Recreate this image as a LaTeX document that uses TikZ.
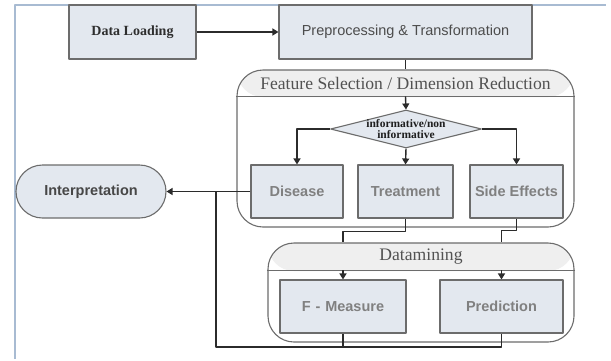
\documentclass[tikz,border=0pt]{standalone}
\usepackage{fontspec}
\setmainfont{Liberation Serif}
\setsansfont{Liberation Sans}
\usetikzlibrary{calc,arrows.meta,shapes.geometric}
\definecolor{boxfill}{HTML}{E3E8EF}
\definecolor{boxline}{HTML}{6C6C6C}
\definecolor{headfill}{HTML}{EFEFEF}
\definecolor{wire}{HTML}{2B2B2B}
\definecolor{framecol}{HTML}{A8BBD2}
\tikzset{flow/.style={
  x=1pt,y=-1pt,
  >={Triangle[length=6pt,width=7pt]},line join=round
},
  stepbox/.style={draw=boxline,line width=1.1pt,fill=boxfill,inner sep=0pt},
  sanslabel/.style={font=\sffamily\bfseries\fontsize{14.5}{16}\selectfont,text=black!50},
  container/.style={draw=boxline,line width=1.1pt,fill=white,rounded corners=26pt,inner sep=0pt},
  headtext/.style={font=\fontsize{17.6}{19}\selectfont,text=black!68},
  wireline/.style={draw=wire,line width=1.4pt},
  wirearrow/.style={wireline,->}
}

\begin{document}
\begin{tikzpicture}[flow]
  \useasboundingbox (0,0) rectangle (611,360);
  % frame of the figure
  \draw[framecol,line width=1.2pt] (15,359) -- (15,5) -- (606,5);

  \node[stepbox,minimum width=127pt,minimum height=54pt,
        font=\bfseries\fontsize{14}{16}\selectfont,text=black!82] (load) at (132.5,32){Data Loading};
  \node[stepbox,minimum width=253pt,minimum height=54pt,
        font=\sffamily\fontsize{14.5}{16}\selectfont,text=black!70] (prep) at (405.5,32){Preprocessing \& Transformation};

  % feature selection block
  \node[container,minimum width=337pt,minimum height=157pt,
        path picture={\fill[headfill] (path picture bounding box.north west) rectangle ([yshift=-27pt]path picture bounding box.north east);}]
        (fsel) at (405.5,148.5){};
  \coordinate (fselsep) at ($(fsel.north)+(0,27)$);
  \draw[boxline,line width=1.1pt] (fsel.west |- fselsep) -- (fsel.east |- fselsep);
  \node[headtext] (fselhead) at (405.5,83.5){Feature Selection / Dimension Reduction};

  \node[diamond,draw=boxline,line width=1.1pt,fill=boxfill,inner sep=0pt,
        minimum width=151pt,minimum height=38pt] (info) at (406,129){};
  \node[font=\bfseries\fontsize{11.5}{10.5}\selectfont,align=center,text=black!88] (infotext) at (info.center){informative/non\\informative};

  \node[stepbox,sanslabel,minimum width=92pt,minimum height=53pt] (disease) at (297,191.5){Disease};
  \node[stepbox,sanslabel,minimum width=95pt,minimum height=53pt] (treat) at (405.5,191.5){Treatment};
  \node[stepbox,sanslabel,minimum width=93pt,minimum height=53pt] (side) at (516.5,191.5){Side Effects};

  \node[stepbox,rounded corners=26.5pt,minimum width=150pt,minimum height=53pt,
        font=\sffamily\bfseries\fontsize{14.5}{16}\selectfont,text=black!72] (interp) at (91,191.5){Interpretation};

  % datamining block
  \node[container,minimum width=306pt,minimum height=99pt,
        path picture={\fill[headfill] (path picture bounding box.north west) rectangle ([yshift=-28pt]path picture bounding box.north east);}]
        (dm) at (421,292.5){};
  \coordinate (dmsep) at ($(dm.north)+(0,28)$);
  \draw[boxline,line width=1.1pt] (dm.west |- dmsep) -- (dm.east |- dmsep);
  \node[headtext] (dmhead) at (421,257){Datamining};

  \node[stepbox,sanslabel,minimum width=126pt,minimum height=53pt] (fmeas) at (343,306.5){F\,\,-\,\,Measure};
  \node[stepbox,sanslabel,minimum width=123pt,minimum height=53pt] (pred) at (501.5,306.5){Prediction};

  \coordinate (ret) at (216,347);

  \draw[wirearrow] (load) -- (prep);
  \draw[wireline] (prep.south) -- (fsel.north);
  \draw[wirearrow] (fselsep) -- (info.north);
  \draw[wirearrow] (info.west) -| (disease.north);
  \draw[wirearrow] (info.south) -- (treat.north);
  \draw[wirearrow] (info.east) -| (side.north);

  \draw[wireline] (treat.south) -- ++(0,13) -| (fmeas.north |- dm.north);
  \draw[wireline] (side.south) -- ++(0,12) -| (pred.north |- dm.north);
  \draw[wirearrow] (fmeas.north |- dmsep) -- (fmeas.north);
  \draw[wirearrow] (pred.north |- dmsep) -- (pred.north);

  \draw[wireline] (fmeas.south) -- (fmeas.south |- ret);
  \draw[wireline] (pred.south) |- (ret) -- (ret |- interp.east);
  \draw[wirearrow] (disease.west) -- (interp.east);
\end{tikzpicture}
\end{document}
